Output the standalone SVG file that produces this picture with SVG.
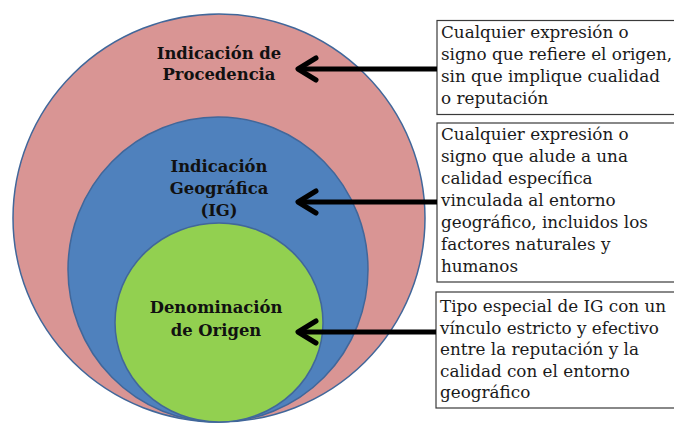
<svg xmlns="http://www.w3.org/2000/svg" width="674" height="424" viewBox="0 0 674 424">
<defs>
<style>
.circ{stroke:#41679A;stroke-width:1.5}
.lbl{font-family:"DejaVu Serif","Liberation Serif",serif;font-weight:bold;font-size:16.4px;fill:#111;text-anchor:middle}
.box{fill:#fff;stroke:#3a3a3a;stroke-width:1.2}
.txt{font-family:"DejaVu Serif","Liberation Serif",serif;font-size:16.8px;fill:#1a1a1a}
.conn{stroke:#000;stroke-width:5;fill:none}
.head{stroke:#000;stroke-width:5;fill:none;stroke-linecap:round;stroke-linejoin:round}
</style>
</defs>
<rect width="674" height="424" fill="#fff"/>
<g id="node-procedencia">
<ellipse class="circ" cx="219" cy="218" rx="206" ry="204" fill="#D99594"/>
<text class="lbl" x="219" y="59">Indicación de</text>
<text class="lbl" x="219" y="80">Procedencia</text>
</g>
<g id="node-ig">
<ellipse class="circ" cx="218" cy="269.5" rx="150" ry="152.5" fill="#4F81BD"/>
<text class="lbl" x="219" y="172">Indicación</text>
<text class="lbl" x="219" y="194">Geográfica</text>
<text class="lbl" x="219" y="216">(IG)</text>
</g>
<g id="node-do">
<ellipse class="circ" cx="219" cy="322.5" rx="104" ry="99.5" fill="#92D050"/>
<text class="lbl" x="216" y="313">Denominación</text>
<text class="lbl" x="216" y="336">de Origen</text>
</g>
<g id="box-1">
<rect class="box" x="437" y="20.5" width="240" height="94"/>
<text class="txt" x="441" y="38">Cualquier expresión o</text>
<text class="txt" x="441" y="60">signo que refiere el origen,</text>
<text class="txt" x="441" y="82">sin que implique cualidad</text>
<text class="txt" x="441" y="104">o reputación</text>
</g>
<g id="box-2">
<rect class="box" x="437" y="123" width="240" height="159"/>
<text class="txt" x="441" y="140">Cualquier expresión o</text>
<text class="txt" x="441" y="162">signo que alude a una</text>
<text class="txt" x="441" y="184">calidad específica</text>
<text class="txt" x="441" y="206">vinculada al entorno</text>
<text class="txt" x="441" y="228">geográfico, incluidos los</text>
<text class="txt" x="441" y="250">factores naturales y</text>
<text class="txt" x="441" y="272">humanos</text>
</g>
<g id="box-3">
<rect class="box" x="436" y="292" width="241" height="116"/>
<text class="txt" x="440" y="312">Tipo especial de IG con un</text>
<text class="txt" x="440" y="333.5">vínculo estricto y efectivo</text>
<text class="txt" x="440" y="355">entre la reputación y la</text>
<text class="txt" x="440" y="376.5">calidad con el entorno</text>
<text class="txt" x="440" y="398">geográfico</text>
</g>
<g id="connectors">
<line class="conn" x1="437" y1="69" x2="300" y2="69"/>
<polyline class="head" points="316,58 298,69 316,80"/>
<line class="conn" x1="437" y1="202" x2="300" y2="202"/>
<polyline class="head" points="316,191 298,202 316,213"/>
<line class="conn" x1="436" y1="332" x2="300" y2="332"/>
<polyline class="head" points="316,321 298,332 316,343"/>
</g>
</svg>
